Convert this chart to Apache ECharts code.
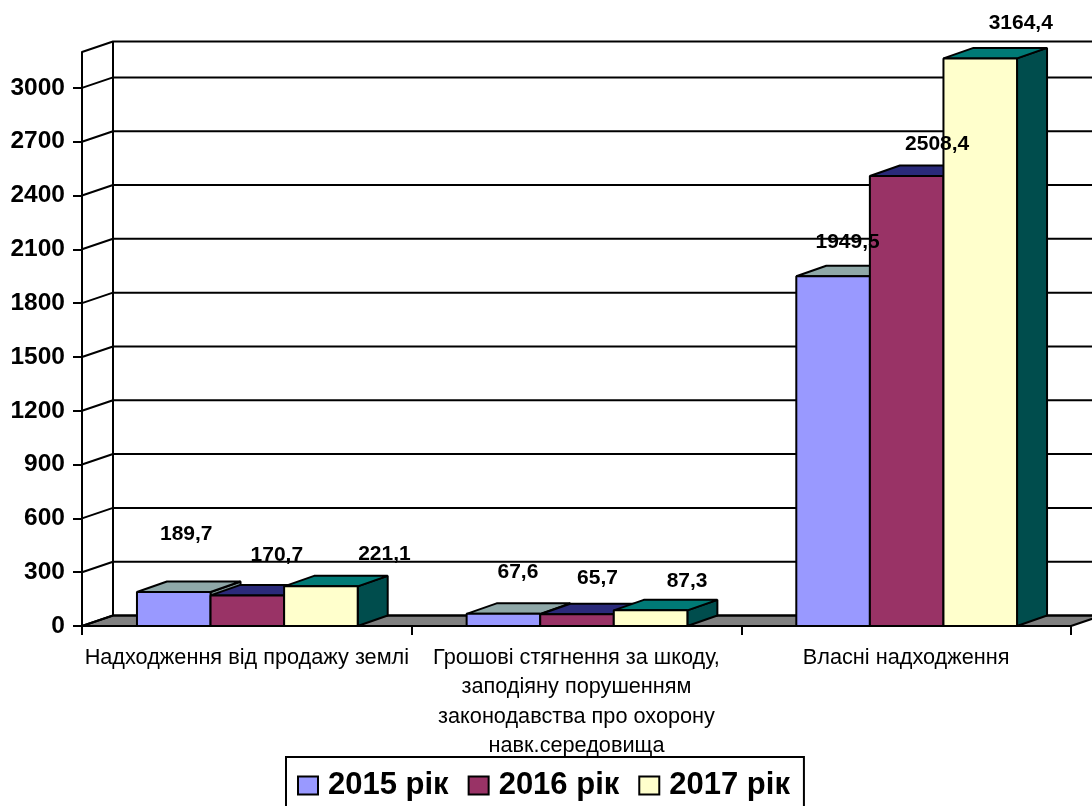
<!DOCTYPE html>
<html><head><meta charset="utf-8">
<style>html,body{margin:0;padding:0;background:#fff;overflow:hidden}#c{width:1092px;height:806px}</style>
<script src="https://cdn.jsdelivr.net/npm/echarts@6/dist/echarts.min.js"></script>
</head><body><div id="c"></div>
<script>
const categories = ["Надходження від продажу землі", "Грошові стягнення за шкоду,\nзаподіяну порушенням\nзаконодавства про охорону\nнавк.середовища", "Власні надходження"];
const seriesNames = ["2015 рік", "2016 рік", "2017 рік"];
const values2015 = [189.7, 67.6, 1949.5];
const values2016 = [170.7, 65.7, 2508.4];
const values2017 = [221.1, 87.3, 3164.4];
const yTicks = [0, 300, 600, 900, 1200, 1500, 1800, 2100, 2400, 2700, 3000];
const yTop = 3200;

// styling and hand-placed label nudges (pixels from bar centre / top)
const frontColors = ["#9999FF", "#993366", "#FFFFCC"];
const topColors = ["#8FA8A8", "#2A2A7A", "#007A76"];
const sideColors = ["#7A9090", "#1E1E5C", "#004D4D"];
const labelNudges = [
  [[13, -58], [30, -40], [64, -32]],
  [[15, -42], [21, -36], [37, -29]],
  [[15, -34], [31, -32], [41, -35]]
];
const DX = 31, DY = -10.5;
const allValues = [values2015, values2016, values2017];
const stroke = { stroke: "#000", lineWidth: 2, lineJoin: "bevel" };

function barRender(si) {
  return function (params, api) {
    const cat = api.value(0), v = api.value(1);
    const c = api.coord([cat, v]), b = api.coord([cat, 0]);
    const band = api.size([1, 0])[0];
    const w = band * 0.2232;
    const x0 = c[0] + (si - 1.5) * w + 0.5, x1 = x0 + w;
    const t = c[1], bt = b[1];
    const d = DX - 1;
    return { type: "group", children: [
      { type: "polygon", shape: { points: [[x1, t], [x1 + d, t + DY], [x1 + d, bt + DY], [x1, bt]] }, style: { fill: sideColors[si], ...stroke } },
      { type: "polygon", shape: { points: [[x0, t], [x0 + d, t + DY], [x1 + d, t + DY], [x1, t]] }, style: { fill: topColors[si], ...stroke } },
      { type: "rect", shape: { x: x0, y: t, width: w, height: bt - t }, style: { fill: frontColors[si], ...stroke } }
    ] };
  };
}
function wallRender(params, api) {
  const kids = [];
  const fl = api.coord([0, 0]);
  const band = api.size([1, 0])[0];
  const xL = fl[0] - band / 2, xR = xL + band * categories.length, y0 = fl[1];
  kids.push({ type: "polygon", shape: { points: [[xL, y0], [xL + DX, y0 + DY], [xR + DX, y0 + DY], [xR, y0]] }, style: { fill: "#808080", ...stroke } });
  yTicks.concat([yTop]).forEach(function (t) {
    const y = api.coord([0, t])[1];
    kids.push({ type: "polyline", shape: { points: [[xL, y], [xL + DX, y + DY], [xR + DX, y + DY]] }, style: { fill: null, ...stroke } });
  });
  const yT = api.coord([0, yTop])[1];
  kids.push({ type: "line", shape: { x1: xL + DX, y1: y0 + DY, x2: xL + DX, y2: yT + DY }, style: stroke });
  return { type: "group", children: kids };
}
function labelRender(params, api) {
  const cat = api.value(0), v = api.value(1), si = api.value(2);
  const c = api.coord([cat, v]);
  const band = api.size([1, 0])[0];
  const w = band * 0.2232;
  const n = labelNudges[cat][si];
  return { type: "text", style: {
    text: v.toFixed(1).replace(".", ","),
    x: c[0] + (si - 1) * w + n[0], y: c[1] + n[1],
    align: "center", verticalAlign: "middle",
    font: "bold 21px 'Liberation Sans'", fill: "#000" } };
}
const labelData = [];
allValues.forEach((arr, si) => arr.forEach((v, ci) => labelData.push([ci, v, si])));

const series = [
  { type: "custom", name: "walls", z: 1, silent: true, renderItem: wallRender, data: [[0, 0]], encode: { x: 0, y: 1 }, clip: false }
];
allValues.forEach((arr, si) => series.push({
  type: "custom", name: seriesNames[si], z: 2 + si, renderItem: barRender(si),
  itemStyle: { color: frontColors[si] }, clip: false,
  data: arr.map((v, ci) => [ci, v]), encode: { x: 0, y: 1 }
}));
series.push({ type: "custom", name: "labels", z: 10, silent: true, renderItem: labelRender, data: labelData, encode: { x: 0, y: 1 }, clip: false });

const chart = echarts.init(document.getElementById("c"), null, { renderer: "canvas" });
chart.setOption({
  animation: false,
  backgroundColor: "#fff",
  grid: { left: 82, right: 21, top: 52, bottom: 180 },
  xAxis: { type: "category", data: categories, boundaryGap: true,
    axisLine: { show: true, onZero: false, lineStyle: { color: "#000", width: 2 } },
    axisTick: { show: true, alignWithLabel: false, length: 9, lineStyle: { color: "#000", width: 2 } },
    axisLabel: { interval: 0, color: "#000", fontFamily: "Liberation Sans", fontSize: 21.7, lineHeight: 29.5, margin: 17 },
    splitLine: { show: false } },
  yAxis: { type: "value", min: 0, max: yTop, interval: 100,
    axisLine: { show: true, lineStyle: { color: "#000", width: 2 } },
    axisTick: { show: true, length: 9, customValues: yTicks, lineStyle: { color: "#000", width: 2 } },
    axisLabel: { customValues: yTicks, formatter: v => String(v), color: "#000", fontFamily: "Liberation Sans", fontWeight: "bold", fontSize: 24.5, margin: 17 },
    splitLine: { show: false } },
  legend: { data: seriesNames.map(n => ({ name: n, icon: "rect", itemStyle: { borderColor: "#000", borderWidth: 2 } })),
    left: 286, top: 757, orient: "horizontal", padding: [13, 14, 11, 11], itemGap: 19, itemWidth: 20, itemHeight: 18,
    selectedMode: false, borderColor: "#000", borderWidth: 2, backgroundColor: "#fff",
    textStyle: { color: "#000", fontFamily: "Liberation Sans", fontWeight: "bold", fontSize: 31, padding: [0, 0, 0, 5] } },
  series: series
});
</script></body></html>
